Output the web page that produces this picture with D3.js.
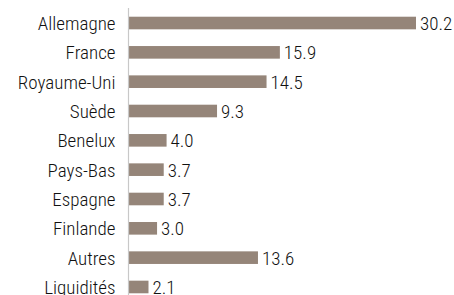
<!DOCTYPE html>
<html>
<head>
<meta charset="utf-8">
<script src="https://cdnjs.cloudflare.com/ajax/libs/d3/7.8.5/d3.min.js"></script>
<style>
  body { margin: 0; background: #fff; }
  svg text { font-family: "Roboto Condensed", "Liberation Sans Narrow", "Arial Narrow", sans-serif; font-weight: 300; fill: #111; }
</style>
</head>
<body>
<svg id="chart"></svg>
<script>
// data
const categories = ["Allemagne", "France", "Royaume-Uni", "Suède", "Benelux", "Pays-Bas", "Espagne", "Finlande", "Autres", "Liquidités"];
const values = [30.2, 15.9, 14.5, 9.3, 4.0, 3.7, 3.7, 3.0, 13.6, 2.1];

const width = 454, height = 295;
const margin = { top: 8, right: 0, bottom: 0, left: 128.5 };

const svg = d3.select("#chart")
    .attr("width", width)
    .attr("height", height);

const x = d3.scaleLinear()
    .domain([0, 30.2])
    .range([margin.left, 416]);

const y = d3.scaleBand()
    .domain(categories)
    .range([8.5, 301.5])
    .paddingInner(0.57)
    .paddingOuter(0.28);

// bars
svg.selectAll("rect.bar")
    .data(values)
    .enter()
    .append("rect")
    .attr("class", "bar")
    .attr("x", x(0))
    .attr("y", (d, i) => y(categories[i]))
    .attr("width", d => x(d) - x(0))
    .attr("height", y.bandwidth())
    .attr("fill", "#958579");

// vertical axis line
svg.append("line")
    .attr("x1", margin.left)
    .attr("x2", margin.left)
    .attr("y1", margin.top)
    .attr("y2", height)
    .attr("stroke", "#c8c8c8")
    .attr("stroke-width", 1.2);

// category labels
svg.selectAll("text.cat")
    .data(categories)
    .enter()
    .append("text")
    .attr("class", "cat")
    .attr("x", margin.left - 13)
    .attr("y", d => y(d) + y.bandwidth() / 2)
    .attr("dy", "0.37em")
    .attr("text-anchor", "end")
    .attr("font-size", 19)
    .text(d => d);

// value labels
svg.selectAll("text.val")
    .data(values)
    .enter()
    .append("text")
    .attr("class", "val")
    .attr("x", d => x(d) + 4)
    .attr("y", (d, i) => y(categories[i]) + y.bandwidth() / 2)
    .attr("dy", "0.37em")
    .attr("font-size", 19)
    .text(d => d.toFixed(1));
</script>
</body>
</html>
